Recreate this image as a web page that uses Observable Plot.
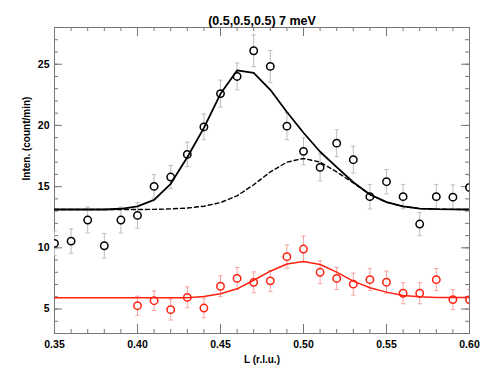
<!DOCTYPE html>
<html><head><meta charset="utf-8">
<script src="https://cdn.jsdelivr.net/npm/d3@7"></script>
<script src="https://cdn.jsdelivr.net/npm/@observablehq/plot@0.6"></script>
<style>body{margin:0;background:#fff}</style>
</head><body><div id="chart"></div>
<script>
const title = "(0.5,0.5,0.5) 7 meV";
const xLabel = "L (r.l.u.)";
const yLabel = "Inten. (count/min)";

// tick positions / labels
const xMajor = [0.35, 0.40, 0.45, 0.50, 0.55, 0.60];
const xMinor = [0.35,0.36,0.37,0.38,0.39,0.40,0.41,0.42,0.43,0.44,0.45,0.46,0.47,0.48,0.49,0.50,0.51,0.52,0.53,0.54,0.55,0.56,0.57,0.58,0.59,0.60];
const yMajor = [5, 10, 15, 20, 25];
const yMinor = [3,4,5,6,7,8,9,10,11,12,13,14,15,16,17,18,19,20,21,22,23,24,25,26,27,28];

// black data points
const blackL   = [0.35,0.36,0.37,0.38,0.39,0.40,0.41,0.42,0.43,0.44,0.45,0.46,0.47,0.48,0.49,0.50,0.51,0.52,0.53,0.54,0.55,0.56,0.57,0.58,0.59,0.60];
const blackV   = [10.36,10.55,12.27,10.17,12.27,12.65,15.02,15.78,17.63,19.88,22.6,24.0,26.1,24.82,19.94,17.88,16.57,18.55,17.2,14.18,15.4,14.18,11.94,14.18,14.14,14.93];
const blackErr = [1.0,1.0,1.05,1.0,1.05,1.05,0.95,0.95,1.0,1.05,1.1,1.1,1.3,1.3,1.1,1.1,1.1,1.1,1.1,1.0,1.0,1.0,0.95,1.0,1.0,1.0];

// red data points
const redL   = [0.40,0.41,0.42,0.43,0.44,0.45,0.46,0.47,0.48,0.49,0.50,0.51,0.52,0.53,0.54,0.55,0.56,0.57,0.58,0.59,0.60];
const redV   = [5.27,5.68,4.95,5.95,5.08,6.86,7.5,7.18,7.3,9.28,9.9,8.0,7.5,7.03,7.4,7.19,6.29,6.29,7.4,5.77,5.77];
const redErr = [0.78,0.8,0.85,0.85,0.8,0.85,0.9,0.85,0.85,0.95,1.05,0.93,0.9,0.9,0.9,0.9,0.86,0.86,0.9,0.82,0.82];

// fit curves (sampled at the same L grid)
const fitL        = [0.35,0.36,0.37,0.38,0.39,0.40,0.41,0.42,0.43,0.44,0.45,0.46,0.47,0.48,0.49,0.50,0.51,0.52,0.53,0.54,0.55,0.56,0.57,0.58,0.59,0.60];
const blackFit    = [13.13,13.13,13.13,13.13,13.19,13.38,13.92,15.23,17.4,19.8,22.58,24.49,24.3,22.91,21.1,19.4,17.85,16.59,15.36,14.36,13.73,13.38,13.21,13.16,13.14,13.13];
const blackDashed = [13.13,13.13,13.13,13.13,13.13,13.13,13.14,13.18,13.25,13.4,13.7,14.25,15.15,16.2,17.0,17.3,17.0,16.2,15.3,14.36,13.73,13.38,13.21,13.16,13.14,13.13];
const redFit      = [5.92,5.92,5.92,5.92,5.92,5.92,5.92,5.92,5.92,6.02,6.24,6.65,7.35,8.09,8.68,8.88,8.64,8.01,7.28,6.74,6.38,6.1,6.0,5.95,5.95,5.95];

const black = blackL.map((x, i) => ({L: x, v: blackV[i], e: blackErr[i]}));
const red = redL.map((x, i) => ({L: x, v: redV[i], e: redErr[i]}));
const fits = fitL.map((x, i) => ({L: x, solid: blackFit[i], dashed: blackDashed[i], red: redFit[i]}));

const W = 490, H = 375, mL = 54, mR = 21, mT = 27, mB = 42;
const fW = W - mL - mR, fH = H - mT - mB;
const axisColor = "#777";
const cap = {draw(ctx, size) { const h = Math.sqrt(size / Math.PI); ctx.moveTo(-h, 0); ctx.lineTo(h, 0); }};

function errMarks(data, color) {
  return [
    Plot.ruleX(data, {x: "L", y1: d => d.v - d.e, y2: d => d.v + d.e, stroke: color, strokeWidth: 1, clip: true}),
    Plot.dot(data, {x: "L", y: d => d.v + d.e, symbol: cap, r: 2.2, stroke: color, fill: "none", strokeWidth: 1, clip: true}),
    Plot.dot(data, {x: "L", y: d => d.v - d.e, symbol: cap, r: 2.2, stroke: color, fill: "none", strokeWidth: 1, clip: true})
  ];
}

const chart = Plot.plot({
  width: W, height: H,
  marginLeft: mL, marginRight: mR, marginTop: mT, marginBottom: mB,
  x: {domain: [0.35, 0.60], axis: null},
  y: {domain: [3, 28], axis: null},
  style: {fontFamily: "'Liberation Sans', Arial, Helvetica, sans-serif", fontWeight: "bold", background: "#fff"},
  marks: [
    // inward ticks
    Plot.tickX(xMinor, {x: d => d, insetTop: fH - 4, stroke: axisColor}),
    Plot.tickX(xMajor, {x: d => d, insetTop: fH - 9, stroke: axisColor}),
    Plot.tickX(xMinor, {x: d => d, insetBottom: fH - 4, stroke: axisColor}),
    Plot.tickX(xMajor, {x: d => d, insetBottom: fH - 9, stroke: axisColor}),
    Plot.tickY(yMinor, {y: d => d, insetRight: fW - 4, stroke: axisColor}),
    Plot.tickY(yMajor, {y: d => d, insetRight: fW - 8, stroke: axisColor}),
    Plot.tickY(yMinor, {y: d => d, insetLeft: fW - 4, stroke: axisColor}),
    Plot.tickY(yMajor, {y: d => d, insetLeft: fW - 8, stroke: axisColor}),
    Plot.frame({stroke: axisColor}),
    // error bars
    ...errMarks(black, "#bdbdbd"),
    ...errMarks(red, "#f5a3a0"),
    // points
    Plot.dot(black, {x: "L", y: "v", r: 3.7, stroke: "#000", strokeWidth: 1.5, fill: "#fff", clip: true}),
    Plot.dot(red, {x: "L", y: "v", r: 3.7, stroke: "#ff2010", strokeWidth: 1.5, fill: "#fff", clip: true}),
    // fits
    Plot.line(fits, {x: "L", y: "dashed", stroke: "#000", strokeWidth: 1.4, strokeDasharray: "4,3", clip: true}),
    Plot.line(fits, {x: "L", y: "solid", stroke: "#000", strokeWidth: 1.8, clip: true}),
    Plot.line(fits, {x: "L", y: "red", stroke: "#ff2010", strokeWidth: 1.5, clip: true}),
    // tick labels
    Plot.text(xMajor, {x: d => d, frameAnchor: "bottom", dy: 14, text: d => d.toFixed(2), fontSize: 10.5, fill: "#000"}),
    Plot.text(yMajor, {y: d => d, frameAnchor: "left", dx: -5, textAnchor: "end", text: d => String(d), fontSize: 10.5, fill: "#000"}),
    // axis labels & title
    Plot.text([xLabel], {frameAnchor: "bottom", dy: 29, text: d => d, fontSize: 10, fill: "#000"}),
    Plot.text([yLabel], {frameAnchor: "left", dx: -28, rotate: -90, text: d => d, fontSize: 10, fill: "#000"}),
    Plot.text([title], {frameAnchor: "top", dy: -11, text: d => d, fontSize: 12.5, fill: "#000"})
  ]
});
document.getElementById("chart").appendChild(chart);
</script>
</body></html>
